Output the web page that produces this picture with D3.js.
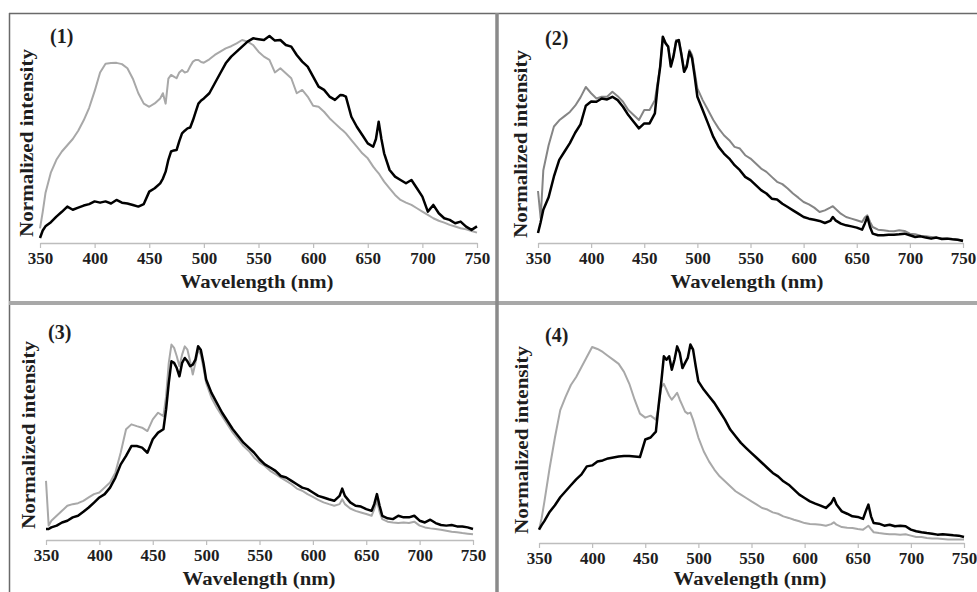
<!DOCTYPE html>
<html>
<head>
<meta charset="utf-8">
<script src="https://cdn.jsdelivr.net/npm/d3@7/dist/d3.min.js"></script>
<style>
body { margin: 0; background: #fff; }
svg text { font-family: "Liberation Serif", "DejaVu Serif", serif; font-weight: bold; fill: #1e1e1e; }
</style>
</head>
<body>
<div class="canva"></div>
<script>
const wavelengths = [
  350, 352.5, 355, 360, 365, 370, 375, 380, 385, 390,
  395, 400, 405, 410, 415, 420, 425, 430, 435, 440,
  445, 450, 455, 460, 462.5, 465, 467.5, 470, 472.5, 475,
  477.5, 480, 482.5, 485, 487.5, 490, 492.5, 495, 497.5, 500,
  505, 510, 515, 520, 525, 530, 535, 540, 545, 550,
  555, 560, 565, 570, 575, 580, 585, 590, 595, 600,
  605, 610, 615, 620, 625, 627.5, 630, 635, 640, 645,
  650, 655, 657.5, 660, 662.5, 665, 670, 675, 680, 685,
  690, 695, 700, 705, 710, 715, 720, 725, 730, 735, 740, 745, 750];

const xTicks = [350, 400, 450, 500, 550, 600, 650, 700, 750];
const panelLabels = ["(1)", "(2)", "(3)", "(4)"];

const p1Black = [
  0.024, 0.06, 0.08, 0.10, 0.127, 0.15, 0.175, 0.16, 0.17, 0.18,
  0.187, 0.2, 0.194, 0.2, 0.19, 0.207, 0.194, 0.19, 0.183, 0.175,
  0.187, 0.247, 0.263, 0.287, 0.31, 0.343, 0.40, 0.44, 0.445, 0.447,
  0.49, 0.527, 0.54, 0.551, 0.555, 0.59, 0.63, 0.67, 0.685, 0.695,
  0.72, 0.768, 0.816, 0.864, 0.896, 0.92, 0.944, 0.968, 0.984, 0.98,
  0.976, 0.995, 0.973, 0.976, 0.952, 0.944, 0.904, 0.872, 0.848, 0.8,
  0.752, 0.736, 0.704, 0.688, 0.712, 0.71, 0.704, 0.607, 0.559, 0.519,
  0.479, 0.463, 0.50, 0.583, 0.50, 0.431, 0.351, 0.319, 0.303, 0.287,
  0.303, 0.263, 0.223, 0.151, 0.183, 0.143, 0.119, 0.111, 0.095, 0.103, 0.079, 0.063, 0.08];
const p1Gray = [
  0.07, 0.15, 0.24, 0.34, 0.40, 0.44, 0.47, 0.5, 0.54, 0.59,
  0.65, 0.73, 0.82, 0.862, 0.865, 0.866, 0.86, 0.84, 0.79, 0.72,
  0.67, 0.655, 0.671, 0.695, 0.72, 0.67, 0.79, 0.808, 0.80, 0.792,
  0.82, 0.832, 0.82, 0.824, 0.85, 0.872, 0.88, 0.88, 0.87, 0.867,
  0.883, 0.904, 0.92, 0.936, 0.946, 0.96, 0.976, 0.968, 0.952, 0.92,
  0.896, 0.88, 0.82, 0.84, 0.816, 0.792, 0.72, 0.736, 0.704, 0.66,
  0.655, 0.631, 0.6, 0.575, 0.551, 0.54, 0.527, 0.495, 0.463, 0.431,
  0.407, 0.367, 0.35, 0.335, 0.315, 0.295, 0.263, 0.231, 0.207, 0.194,
  0.183, 0.167, 0.151, 0.135, 0.119, 0.107, 0.098, 0.087, 0.079, 0.071, 0.066, 0.058, 0.05];

const p2Black = [
  0.048, 0.1, 0.16, 0.22, 0.32, 0.40, 0.44, 0.48, 0.53, 0.57,
  0.66, 0.68, 0.679, 0.695, 0.69, 0.703, 0.687, 0.655, 0.615, 0.583,
  0.551, 0.575, 0.575, 0.623, 0.75, 0.848, 0.992, 0.96, 0.944, 0.848,
  0.896, 0.968, 0.976, 0.904, 0.823, 0.848, 0.92, 0.888, 0.8, 0.703,
  0.639, 0.575, 0.51, 0.462, 0.43, 0.406, 0.374, 0.35, 0.318, 0.302,
  0.278, 0.254, 0.238, 0.213, 0.209, 0.189, 0.173, 0.157, 0.141, 0.125,
  0.117, 0.112, 0.106, 0.096, 0.106, 0.125, 0.109, 0.093, 0.085, 0.08,
  0.074, 0.064, 0.093, 0.125, 0.077, 0.045, 0.037, 0.037, 0.04, 0.04,
  0.042, 0.045, 0.037, 0.029, 0.032, 0.026, 0.021, 0.026, 0.019, 0.021, 0.018, 0.016, 0.01];
const p2Gray = [
  0.25, 0.12, 0.35, 0.47, 0.56, 0.59, 0.61, 0.63, 0.66, 0.70,
  0.75, 0.72, 0.695, 0.703, 0.703, 0.727, 0.706, 0.679, 0.639, 0.615,
  0.591, 0.639, 0.639, 0.687, 0.767, 0.848, 0.99, 0.965, 0.944, 0.856,
  0.904, 0.976, 0.976, 0.912, 0.831, 0.856, 0.928, 0.904, 0.823, 0.743,
  0.687, 0.639, 0.591, 0.551, 0.518, 0.494, 0.462, 0.454, 0.422, 0.406,
  0.382, 0.358, 0.342, 0.318, 0.294, 0.283, 0.262, 0.238, 0.218, 0.197,
  0.186, 0.17, 0.149, 0.157, 0.17, 0.177, 0.165, 0.141, 0.125, 0.117,
  0.109, 0.101, 0.122, 0.133, 0.101, 0.077, 0.064, 0.061, 0.058, 0.056,
  0.061, 0.058, 0.045, 0.042, 0.035, 0.032, 0.029, 0.026, 0.022, 0.022, 0.019, 0.016, 0.013];

const p3Black = [
  0.056, 0.056, 0.064, 0.073, 0.089, 0.098, 0.115, 0.123, 0.143, 0.165,
  0.19, 0.216, 0.233, 0.266, 0.317, 0.384, 0.427, 0.477, 0.477, 0.469,
  0.443, 0.511, 0.545, 0.562, 0.663, 0.798, 0.907, 0.899, 0.873, 0.831,
  0.899, 0.924, 0.907, 0.882, 0.89, 0.916, 0.983, 0.966, 0.899, 0.815,
  0.747, 0.696, 0.646, 0.604, 0.562, 0.528, 0.494, 0.469, 0.443, 0.41,
  0.384, 0.368, 0.351, 0.325, 0.317, 0.3, 0.283, 0.266, 0.258, 0.241,
  0.224, 0.216, 0.207, 0.199, 0.224, 0.261, 0.224, 0.191, 0.174, 0.17,
  0.157, 0.148, 0.182, 0.233, 0.174, 0.123, 0.11, 0.106, 0.123, 0.115,
  0.115, 0.123, 0.098, 0.089, 0.103, 0.086, 0.076, 0.073, 0.076, 0.069, 0.069, 0.064, 0.056];
const p3Gray = [
  0.30, 0.073, 0.098, 0.123, 0.148, 0.174, 0.182, 0.187, 0.199, 0.216,
  0.233, 0.241, 0.266, 0.292, 0.342, 0.444, 0.562, 0.587, 0.578, 0.57,
  0.553, 0.612, 0.646, 0.629, 0.73, 0.899, 0.992, 0.975, 0.933, 0.882,
  0.941, 0.983, 0.966, 0.907, 0.84, 0.899, 0.966, 0.941, 0.874, 0.798,
  0.722, 0.671, 0.629, 0.587, 0.545, 0.511, 0.477, 0.452, 0.418, 0.393,
  0.376, 0.351, 0.334, 0.317, 0.3, 0.283, 0.261, 0.25, 0.233, 0.219,
  0.204, 0.191, 0.182, 0.174, 0.182, 0.207, 0.182, 0.16, 0.148, 0.14,
  0.132, 0.123, 0.157, 0.199, 0.143, 0.106, 0.093, 0.089, 0.086, 0.089,
  0.086, 0.093, 0.073, 0.064, 0.059, 0.056, 0.052, 0.047, 0.042, 0.039, 0.035, 0.032, 0.029];

const p4Black = [
  0.067, 0.09, 0.11, 0.156, 0.19, 0.23, 0.26, 0.29, 0.32, 0.345,
  0.385, 0.39, 0.41, 0.415, 0.425, 0.43, 0.435, 0.437, 0.437, 0.435,
  0.432, 0.52, 0.53, 0.56, 0.687, 0.804, 0.938, 0.921, 0.938, 0.871,
  0.921, 0.988, 0.955, 0.879, 0.905, 0.93, 0.997, 0.972, 0.888, 0.812,
  0.771, 0.737, 0.704, 0.662, 0.62, 0.57, 0.536, 0.503, 0.477, 0.452,
  0.427, 0.402, 0.377, 0.352, 0.335, 0.31, 0.293, 0.268, 0.243, 0.226,
  0.209, 0.198, 0.188, 0.176, 0.201, 0.226, 0.193, 0.159, 0.147, 0.134,
  0.131, 0.121, 0.159, 0.193, 0.134, 0.1, 0.097, 0.087, 0.092, 0.084,
  0.087, 0.084, 0.067, 0.059, 0.054, 0.05, 0.047, 0.042, 0.044, 0.042, 0.039, 0.037, 0.03];
const p4Gray = [
  0.067, 0.125, 0.205, 0.377, 0.53, 0.668, 0.734, 0.794, 0.834, 0.884,
  0.935, 0.985, 0.975, 0.96, 0.94, 0.92, 0.9, 0.86, 0.80, 0.72,
  0.65, 0.63, 0.64, 0.62, 0.68, 0.78, 0.80, 0.77, 0.74, 0.72,
  0.737, 0.755, 0.72, 0.69, 0.66, 0.65, 0.655, 0.62, 0.575, 0.53,
  0.461, 0.41, 0.369, 0.335, 0.31, 0.285, 0.26, 0.243, 0.226, 0.209,
  0.193, 0.176, 0.168, 0.154, 0.147, 0.134, 0.126, 0.117, 0.109, 0.1,
  0.095, 0.094, 0.092, 0.087, 0.095, 0.104, 0.092, 0.08, 0.077, 0.075,
  0.07, 0.067, 0.077, 0.087, 0.07, 0.054, 0.05, 0.047, 0.044, 0.044,
  0.042, 0.044, 0.037, 0.03, 0.03, 0.025, 0.023, 0.022, 0.02, 0.018, 0.018, 0.017, 0.017];

const width = 977, height = 592;

const svg = d3.select(".canva").append("svg")
    .attr("width", width)
    .attr("height", height);

// table borders around the four panels
svg.append("line").attr("x1", 9).attr("x2", width).attr("y1", 13.5).attr("y2", 13.5)
    .attr("stroke", "#6a6a6a").attr("stroke-width", 1.5);
svg.append("line").attr("x1", 9.5).attr("x2", 9.5).attr("y1", 13).attr("y2", height)
    .attr("stroke", "#6a6a6a").attr("stroke-width", 1.5);
svg.append("line").attr("x1", 9).attr("x2", width).attr("y1", 303).attr("y2", 303)
    .attr("stroke", "#a8a8a8").attr("stroke-width", 4);
svg.append("line").attr("x1", 497).attr("x2", 497).attr("y1", 13).attr("y2", height)
    .attr("stroke", "#8a8a8a").attr("stroke-width", 3.5);

const panels = [
  {black: p1Black, gray: p1Gray, grayColor: "#a8a8a8", left: 40, right: 477, base: 243, top: 35,
   lab: [50, 43], yLab: [33, 143], title: [257, 288]},
  {black: p2Black, gray: p2Gray, grayColor: "#858585", left: 538, right: 963, base: 243, top: 35,
   lab: [545, 45], yLab: [527, 144], title: [747, 288]},
  {black: p3Black, gray: p3Gray, grayColor: "#a8a8a8", left: 46, right: 473, base: 540, top: 343,
   lab: [48, 339], yLab: [35, 435], title: [259, 585]},
  {black: p4Black, gray: p4Gray, grayColor: "#a8a8a8", left: 539, right: 964, base: 543, top: 344,
   lab: [545, 342], yLab: [528, 440], title: [750, 585]}
];

panels.forEach(function(p, i) {
  const x = d3.scaleLinear().domain([350, 750]).range([p.left, p.right]);
  const y = d3.scaleLinear().domain([0, 1]).range([p.base, p.top]);

  const g = svg.append("g");

  const axis = g.append("g")
      .attr("transform", `translate(0,${p.base})`)
      .call(d3.axisBottom(x).tickValues(xTicks).tickSize(5).tickSizeOuter(0).tickPadding(4));
  axis.select(".domain").attr("stroke", "#bdbdbd").attr("stroke-width", 1.5);
  axis.selectAll(".tick line").attr("stroke", "#bdbdbd").attr("stroke-width", 1.2);
  axis.selectAll(".tick text")
      .attr("font-size", "17px")
      .attr("font-family", "Liberation Serif")
      .attr("font-weight", "bold")
      .attr("fill", "#1e1e1e");

  const line = d3.line()
      .x(d => x(d[0]))
      .y(d => y(d[1]));

  g.append("path")
      .datum(d3.zip(wavelengths, p.gray))
      .attr("fill", "none")
      .attr("stroke", p.grayColor)
      .attr("stroke-width", 2)
      .attr("stroke-linejoin", "round")
      .attr("d", line);

  g.append("path")
      .datum(d3.zip(wavelengths, p.black))
      .attr("fill", "none")
      .attr("stroke", "#000")
      .attr("stroke-width", 2.5)
      .attr("stroke-linejoin", "round")
      .attr("d", line);

  g.append("text")
      .attr("x", p.lab[0])
      .attr("y", p.lab[1])
      .attr("font-size", "20px")
      .text(panelLabels[i]);

  g.append("text")
      .attr("transform", `translate(${p.yLab[0]},${p.yLab[1]}) rotate(-90)`)
      .attr("text-anchor", "middle")
      .attr("font-size", "19px")
      .attr("textLength", 188)
      .attr("lengthAdjust", "spacingAndGlyphs")
      .text("Normalized intensity");

  g.append("text")
      .attr("x", p.title[0])
      .attr("y", p.title[1])
      .attr("text-anchor", "middle")
      .attr("font-size", "19px")
      .attr("textLength", 153)
      .attr("lengthAdjust", "spacingAndGlyphs")
      .text("Wavelength (nm)");
});
</script>
</body>
</html>
